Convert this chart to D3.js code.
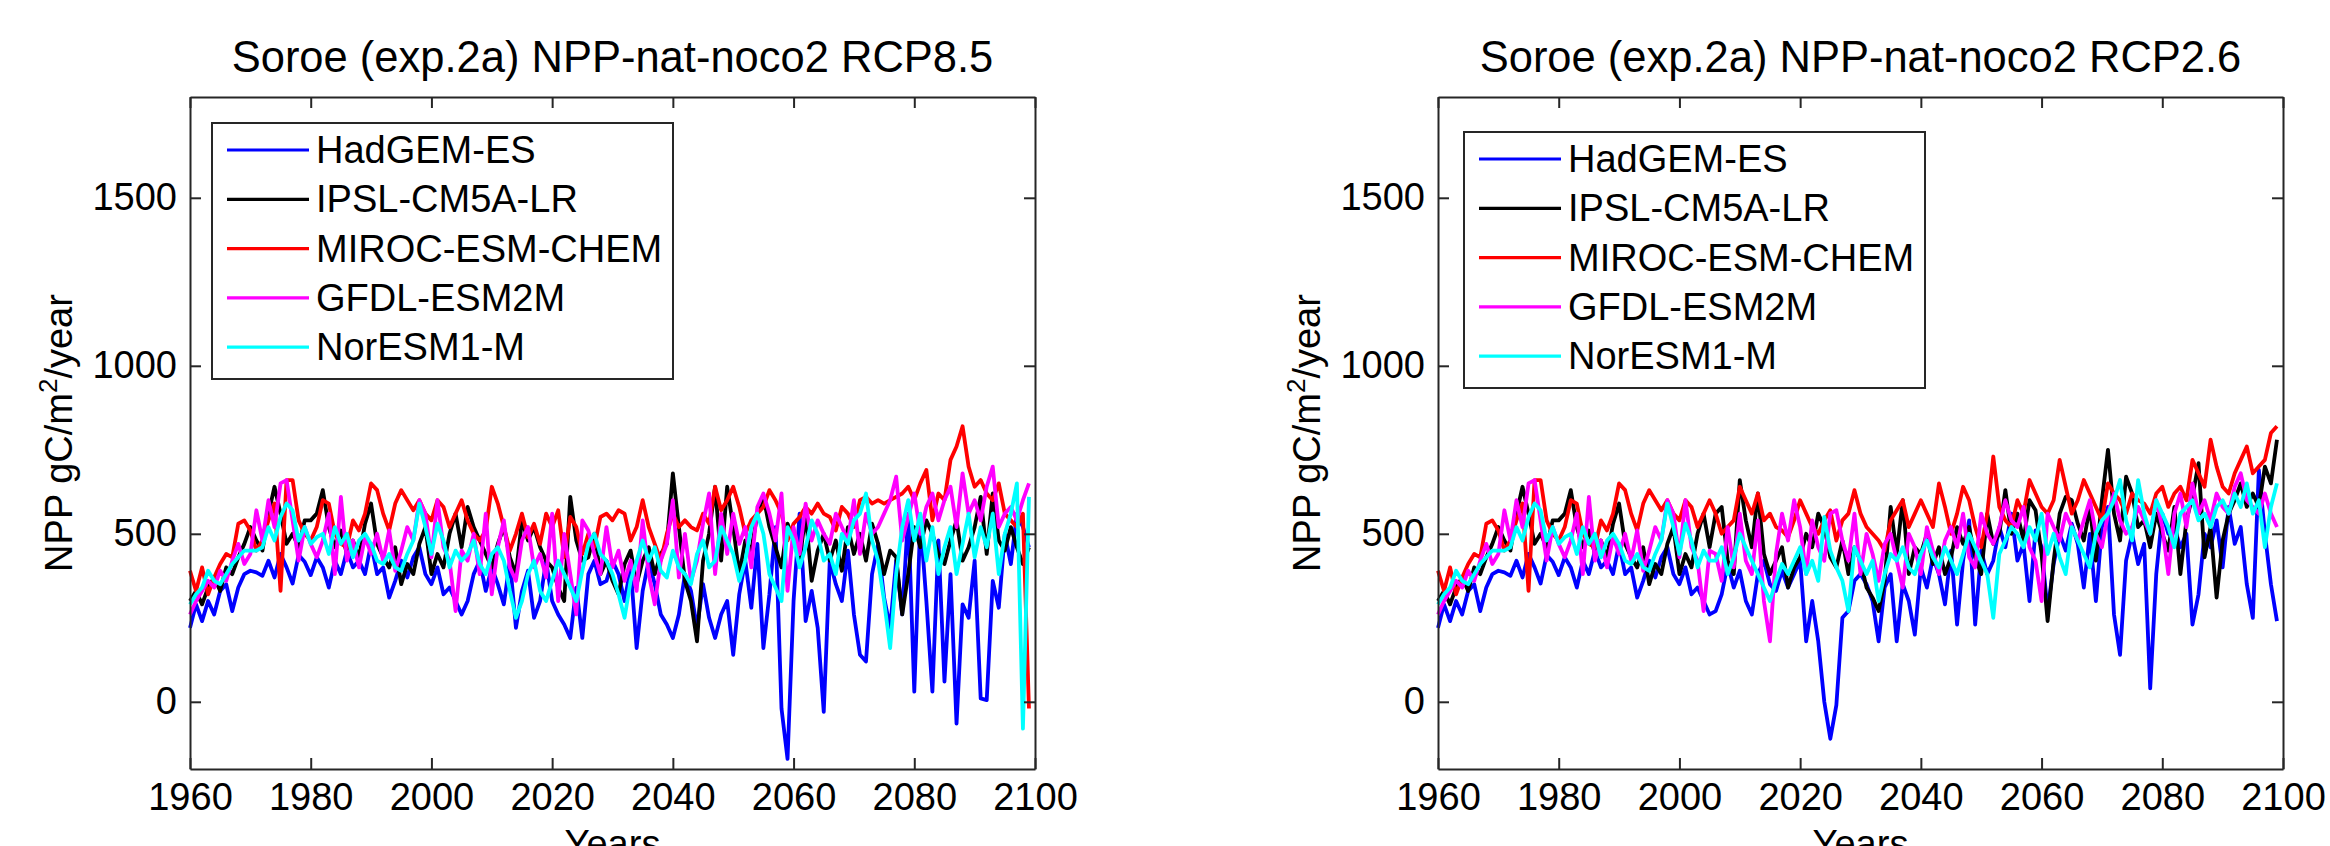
<!DOCTYPE html>
<html>
<head>
<meta charset="utf-8">
<script src="https://cdn.jsdelivr.net/npm/d3@7"></script>
<style>
  body { margin: 0; background: #fff; }
  svg text { font-family: "Liberation Sans", Arial, Helvetica, sans-serif; fill: #000; }
</style>
</head>
<body>
<div id="viz"></div>
<script>
// NPP runs, Soroe site, annual values 1960-2099
const firstYear = 1960;

const models = ["HadGEM-ES", "IPSL-CM5A-LR", "MIROC-ESM-CHEM", "GFDL-ESM2M", "NorESM1-M"];
const colors = ["#0000ff", "#000000", "#ff0000", "#ff00ff", "#00ffff"];

const xTicks = [1960, 1980, 2000, 2020, 2040, 2060, 2080, 2100];
const yTicks = [0, 500, 1000, 1500];

// historical part 1960-2005 (same in both scenarios)
const histHadGEM = [220, 290, 240, 300, 260, 330, 350, 270, 340, 380,
                    390, 385, 375, 420, 370, 440, 400, 352, 437, 417,
                    377, 430, 400, 340, 420, 380, 450, 400, 420, 380,
                    470, 380, 400, 310, 360, 420, 370, 430, 460, 380,
                    350, 400, 320, 340, 300, 260];
const histIPSL = [300, 330, 290, 340, 370, 330, 400, 380, 430, 470,
                  520, 480, 450, 560, 640, 560, 470, 500, 460, 540,
                  540, 560, 630, 520, 460, 510, 440, 480, 430, 530,
                  590, 470, 430, 400, 460, 350, 410, 380, 470, 520,
                  380, 440, 400, 500, 560, 460];
const histMIROC = [390, 330, 400, 320, 370, 410, 440, 430, 530, 540,
                   510, 450, 480, 540, 590, 330, 660, 660, 540, 500,
                   480, 520, 600, 590, 500, 470, 460, 540, 510, 560,
                   650, 630, 560, 510, 590, 630, 600, 570, 600, 560,
                   540, 600, 580, 520, 560, 600];
const histGFDL = [260, 300, 330, 360, 340, 390, 360, 420, 470, 410,
                  440, 570, 480, 600, 520, 650, 660, 540, 420, 520,
                  470, 430, 480, 560, 380, 610, 420, 480, 400, 490,
                  440, 500, 420, 510, 390, 450, 520, 480, 600, 560,
                  430, 600, 460, 420, 270, 450];
const histNorESM = [290, 320, 340, 390, 360, 350, 380, 410, 430, 450,
                    450, 450, 460, 520, 480, 550, 590, 570, 480, 520,
                    470, 490, 500, 440, 520, 470, 500, 430, 480, 500,
                    470, 420, 410, 440, 400, 390, 440, 480, 590, 520,
                    440, 530, 480, 400, 450, 420];

// RCP8.5, 2006-2099
const rcp85HadGEM = [300, 380, 420, 330, 400, 350, 290, 420, 220, 330,
                     390, 250, 300, 420, 300, 260, 230, 190, 340, 190,
                     380, 420, 350, 360, 420, 380, 300, 400, 160, 330,
                     420, 350, 260, 230, 190, 260, 380, 330, 220, 350,
                     250, 190, 260, 300, 140, 320, 420, 280, 470, 160,
                     320, 520, -20, -170, 300, 560, 240, 330, 220, -30,
                     420, 350, 300, 450, 260, 140, 120, 380, 470, 310,
                     220, 420, 260, 560, 30, 540, 300, 30, 480, 60,
                     380, -65, 290, 250, 420, 10, 5, 360, 280, 500,
                     410, 560, 520, 460];
const rcp85IPSL = [580, 520, 480, 440, 400, 470, 520, 430, 380, 540,
                   480, 520, 460, 420, 400, 340, 300, 610, 480, 420,
                   430, 500, 380, 420, 360, 320, 410, 450, 350, 420,
                   460, 380, 440, 470, 680, 520, 360, 300, 180, 420,
                   500, 640, 420, 640, 520, 380, 480, 450, 560, 610,
                   520, 460, 400, 530, 480, 420, 560, 360, 450, 500,
                   420, 480, 390, 520, 440, 500, 420, 530, 470, 380,
                   450, 430, 260, 380, 520, 460, 540, 500, 440, 410,
                   480, 540, 420, 460, 520, 610, 440, 620, 480, 450,
                   520, 460, 410, 460];
const rcp85MIROC = [540, 500, 480, 510, 640, 590, 520, 450, 500, 560,
                    490, 530, 470, 560, 520, 570, 430, 550, 520, 440,
                    500, 460, 550, 560, 540, 570, 560, 480, 520, 600,
                    520, 470, 420, 500, 560, 520, 540, 520, 510, 560,
                    530, 640, 570, 600, 640, 580, 500, 540, 560, 580,
                    630, 600, 560, 480, 530, 550, 580, 560, 590, 560,
                    550, 510, 580, 560, 520, 600, 610, 590, 600, 590,
                    600, 610, 620, 640, 600, 650, 690, 540, 620, 600,
                    720, 760, 820, 700, 640, 660, 620, 600, 650, 560,
                    540, 520, 560, -20];
const rcp85GFDL = [420, 500, 380, 560, 320, 460, 540, 400, 360, 480,
                   520, 400, 440, 370, 560, 300, 500, 380, 260, 540,
                   510, 440, 380, 520, 400, 450, 360, 420, 330, 540,
                   380, 290, 420, 470, 600, 370, 500, 360, 420, 530,
                   620, 380, 560, 440, 560, 470, 520, 400, 580, 620,
                   560, 480, 620, 330, 520, 440, 590, 480, 540, 500,
                   470, 560, 520, 480, 600, 440, 560, 500, 520, 560,
                   600, 670, 480, 550, 620, 500, 580, 620, 540, 600,
                   640, 520, 680, 560, 600, 540, 640, 700, 520, 560,
                   580, 540, 600, 650];
const rcp85NorESM = [440, 480, 410, 380, 440, 460, 420, 330, 250, 300,
                     380, 420, 330, 300, 360, 420, 380, 340, 300, 390,
                     470, 500, 440, 420, 380, 320, 250, 360, 420, 480,
                     420, 460, 390, 370, 450, 400, 380, 350, 440, 480,
                     400, 420, 520, 480, 440, 360, 420, 520, 560, 500,
                     380, 340, 300, 520, 480, 400, 460, 540, 500, 420,
                     440, 380, 500, 470, 540, 560, 620, 480, 420, 300,
                     160, 380, 520, 600, 480, 560, 420, 520, 380, 460,
                     520, 380, 470, 560, 430, 520, 460, 560, 380, 500,
                     560, 650, -80, 610];

// RCP2.6, 2006-2099
const rcp26HadGEM = [270, 320, 410, 340, 390, 300, 260, 380, 420, 350,
                     330, 390, 340, 380, 420, 180, 300, 180, 0, -110,
                     -10, 250, 270, 360, 380, 350, 300, 180, 340, 380,
                     180, 350, 300, 200, 400, 340, 430, 380, 290, 450,
                     230, 420, 540, 230, 450, 380, 420, 520, 460, 560,
                     420, 470, 300, 510, 460, 270, 410, 500, 450, 530,
                     470, 340, 500, 300, 520, 580, 260, 140, 420, 500,
                     410, 470, 40, 380, 560, 500, 520, 460, 500, 230,
                     320, 500, 460, 540, 400, 580, 470, 520, 350, 250,
                     690, 500, 350, 240];
const rcp26IPSL = [560, 580, 420, 380, 660, 540, 460, 620, 440, 380,
                   420, 460, 340, 400, 430, 500, 460, 560, 520, 430,
                   400, 480, 380, 460, 420, 340, 310, 270, 360, 580,
                   440, 600, 380, 460, 440, 500, 410, 460, 380, 430,
                   520, 470, 520, 430, 380, 560, 470, 500, 630, 500,
                   560, 480, 600, 570, 440, 240, 420, 560, 610, 600,
                   530, 480, 580, 420, 600, 750, 560, 480, 670, 620,
                   520, 540, 460, 560, 500, 450, 580, 380, 540, 610,
                   710, 430, 520, 310, 480, 560, 600, 650, 580, 620,
                   580, 700, 650, 780];
const rcp26MIROC = [560, 500, 520, 540, 640, 600, 560, 620, 540, 560,
                    520, 510, 490, 540, 600, 560, 520, 500, 540, 570,
                    480, 540, 560, 630, 560, 520, 500, 480, 450, 540,
                    570, 600, 520, 560, 600, 560, 520, 650, 580, 500,
                    560, 640, 600, 520, 460, 560, 730, 580, 540, 520,
                    600, 560, 660, 620, 580, 560, 600, 720, 640, 560,
                    600, 660, 620, 580, 540, 650, 620, 600, 560, 620,
                    600, 590, 560, 620, 640, 580, 620, 640, 600, 720,
                    680, 640, 780, 700, 640, 620, 680, 720, 760, 680,
                    700, 720, 800, 820];
const rcp26GFDL = [440, 360, 520, 400, 560, 420, 380, 540, 300, 180,
                   440, 560, 480, 600, 520, 380, 540, 460, 420, 560,
                   570, 480, 420, 560, 380, 500, 440, 360, 470, 500,
                   420, 340, 500, 460, 380, 520, 450, 380, 480, 520,
                   460, 560, 430, 400, 560, 500, 470, 520, 600, 540,
                   520, 580, 460, 420, 300, 560, 520, 480, 560, 520,
                   480, 540, 600, 500, 460, 560, 620, 540, 500, 520,
                   580, 540, 500, 600, 520, 380, 560, 620, 520, 650,
                   560, 600, 540, 620, 580, 560, 640, 680, 600, 580,
                   560, 620, 560, 520];
const rcp26NorESM = [420, 460, 380, 430, 500, 460, 420, 380, 340, 300,
                     360, 410, 380, 420, 460, 380, 420, 360, 550, 450,
                     400, 360, 270, 460, 420, 380, 420, 300, 380, 440,
                     420, 460, 400, 380, 440, 480, 430, 400, 460, 420,
                     380, 440, 500, 460, 420, 380, 250, 440, 480, 520,
                     500, 460, 520, 480, 560, 440, 500, 430, 380, 520,
                     480, 440, 400, 500, 540, 560, 600, 660, 540, 480,
                     660, 560, 500, 600, 560, 520, 460, 560, 580, 600,
                     540, 560, 520, 580, 600, 560, 620, 580, 650, 560,
                     600, 460, 580, 650];

const hist = [histHadGEM, histIPSL, histMIROC, histGFDL, histNorESM];
const rcp85 = [rcp85HadGEM, rcp85IPSL, rcp85MIROC, rcp85GFDL, rcp85NorESM];
const rcp26 = [rcp26HadGEM, rcp26IPSL, rcp26MIROC, rcp26GFDL, rcp26NorESM];

const svg = d3.select("#viz")
              .append("svg")
              .attr("width", 2330)
              .attr("height", 846);

const panels = [
  { title: "Soroe (exp.2a) NPP-nat-noco2 RCP8.5", future: rcp85, left: 190, right: 1035, legX: 212, legY: 123 },
  { title: "Soroe (exp.2a) NPP-nat-noco2 RCP2.6", future: rcp26, left: 1438, right: 2283, legX: 1464, legY: 132 }
];

const plotTop = 97, plotBottom = 769;

panels.forEach(p => drawPanel(p));

function drawPanel(p) {
  const x = d3.scaleLinear().domain([1960, 2100]).range([p.left, p.right]);
  const y = d3.scaleLinear().domain([-200, 1800]).range([plotBottom, plotTop]);

  const g = svg.append("g");

  // series, later models drawn on top like the original
  const line = d3.line()
                 .x((d, i) => x(firstYear + i))
                 .y(d => y(d));

  models.forEach((m, k) => {
    const values = hist[k].concat(p.future[k]);
    g.append("path")
     .datum(values)
     .attr("d", line)
     .attr("fill", "none")
     .attr("stroke", colors[k])
     .attr("stroke-width", 3.8)
     .attr("stroke-linejoin", "round");
  });

  // axes, ticks pointing inward
  const axisStyle = sel => {
    sel.selectAll(".domain").attr("stroke", "#262626").attr("stroke-width", 2);
    sel.selectAll(".tick line").attr("stroke", "#262626").attr("stroke-width", 2);
    sel.selectAll("text").style("font-size", "38px").attr("fill", "#000");
  };

  g.append("g")
   .attr("transform", `translate(0,${plotBottom})`)
   .call(d3.axisBottom(x).tickValues(xTicks).tickFormat(d3.format("d"))
           .tickSizeInner(-11).tickSizeOuter(0).tickPadding(14))
   .call(axisStyle);

  g.append("g")
   .attr("transform", `translate(0,${plotTop})`)
   .call(d3.axisTop(x).tickValues(xTicks).tickFormat("")
           .tickSizeInner(-11).tickSizeOuter(0))
   .call(axisStyle);

  g.append("g")
   .attr("transform", `translate(${p.left},0)`)
   .call(d3.axisLeft(y).tickValues(yTicks).tickFormat(d3.format("d"))
           .tickSizeInner(-11).tickSizeOuter(0).tickPadding(13))
   .call(axisStyle);

  g.append("g")
   .attr("transform", `translate(${p.right},0)`)
   .call(d3.axisRight(y).tickValues(yTicks).tickFormat("")
           .tickSizeInner(-11).tickSizeOuter(0))
   .call(axisStyle);

  g.selectAll("g").attr("font-family", null);

  // title
  const cx = (p.left + p.right) / 2;
  svg.append("text")
     .attr("x", cx)
     .attr("y", 72)
     .attr("text-anchor", "middle")
     .style("font-size", "43.5px")
     .text(p.title);

  // x label (clipped by the figure bottom, as in the original)
  svg.append("text")
     .attr("x", cx)
     .attr("y", 857)
     .attr("text-anchor", "middle")
     .style("font-size", "38px")
     .text("Years");

  // y label
  const yl = svg.append("text")
     .attr("transform", `translate(${p.left - 118},${(plotTop + plotBottom) / 2}) rotate(-90)`)
     .attr("text-anchor", "middle")
     .style("font-size", "38px");
  yl.append("tspan").text("NPP gC/m");
  yl.append("tspan").attr("dy", -15).style("font-size", "26px").text("2");
  yl.append("tspan").attr("dy", 15).text("/year");

  // legend
  const leg = svg.append("g").attr("transform", `translate(${p.legX},${p.legY})`);
  leg.append("rect")
     .attr("width", 461)
     .attr("height", 256)
     .attr("fill", "#fff")
     .attr("stroke", "#262626")
     .attr("stroke-width", 2);

  models.forEach((m, k) => {
    const ry = 27 + k * 49.3;
    leg.append("line")
       .attr("x1", 15).attr("x2", 97)
       .attr("y1", ry).attr("y2", ry)
       .attr("stroke", colors[k])
       .attr("stroke-width", 3.2);
    leg.append("text")
       .attr("x", 104)
       .attr("y", ry + 13)
       .style("font-size", "38px")
       .text(m);
  });
}
</script>
</body>
</html>
